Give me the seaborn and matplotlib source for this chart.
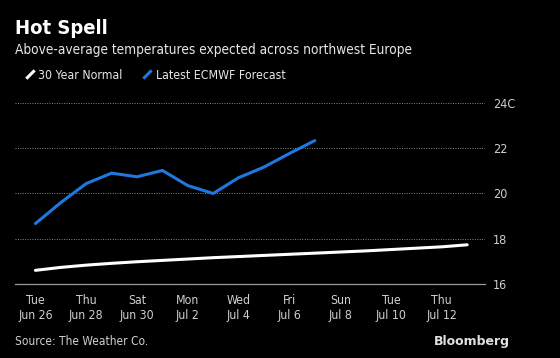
import numpy as np
import pandas as pd
import matplotlib
matplotlib.use("Agg")
import matplotlib.pyplot as plt
from matplotlib.lines import Line2D
import seaborn as sns

# data (deg C)
normal = [16.6, 16.73, 16.83, 16.91, 16.98, 17.04, 17.1, 17.16, 17.21,
          17.26, 17.31, 17.36, 17.41, 17.46, 17.52, 17.58, 17.64, 17.73]
forecast = [18.67, 19.6, 20.44, 20.9, 20.74, 21.02, 20.35, 20.0, 20.7,
            21.17, 21.77, 22.34]
tick_days = ["Tue", "Thu", "Sat", "Mon", "Wed", "Fri", "Sun", "Tue", "Thu"]
tick_dates = ["Jun 26", "Jun 28", "Jun 30", "Jul 2", "Jul 4", "Jul 6",
              "Jul 8", "Jul 10", "Jul 12"]
y_ticks = [16, 18, 20, 22, 24]
y_labels = ["16", "18", "20", "22", "24C"]

dates = pd.date_range("2018-06-26", periods=len(normal), freq="D")
df = pd.concat([
    pd.DataFrame({"date": dates, "temp": normal, "series": "30 Year Normal"}),
    pd.DataFrame({"date": dates[:len(forecast)], "temp": forecast,
                  "series": "Latest ECMWF Forecast"}),
])

sns.set_style("dark", {"axes.facecolor": "black", "figure.facecolor": "black"})
plt.rcParams['font.family'] = ['DejaVu Sans']
plt.rcParams['font.stretch'] = 'condensed'

fig = plt.figure(figsize=(5.6, 3.58), dpi=100)
fig.patch.set_facecolor("black")
ax = fig.add_axes([0.027, 0.207, 0.839, 0.505])
ax.set_facecolor("black")

sns.lineplot(data=df, x="date", y="temp", hue="series",
             palette={"30 Year Normal": "white", "Latest ECMWF Forecast": "#1f78e0"},
             linewidth=2.2, ax=ax, legend=False)

ax.set_ylim(16, 24)
ax.set_xlim(dates[0] - pd.Timedelta(days=0.8), dates[0] + pd.Timedelta(days=17.7))
ax.yaxis.tick_right()
ax.set_yticks(y_ticks)
ax.set_yticklabels(y_labels)
tick_pos = dates[::2][:len(tick_dates)]
ax.set_xticks(tick_pos)
ax.set_xticklabels([f"{d}\n{t}" for d, t in zip(tick_days, tick_dates)])
ax.tick_params(axis="y", length=0, pad=6, labelcolor="#cfcfcf", labelsize=9)
ax.tick_params(axis="x", length=4, color="#9a9a9a", width=0.8, pad=3,
               labelcolor="#cfcfcf", labelsize=8.8)
ax.set_xlabel("")
ax.set_ylabel("")
for s in ["top", "left", "right"]:
    ax.spines[s].set_visible(False)
ax.spines["bottom"].set_color("#9a9a9a")
ax.spines["bottom"].set_linewidth(0.9)
ax.grid(False)
for y in y_ticks[1:]:
    ax.axhline(y, color="#8a8a8a", linestyle=(0, (1, 1.5)), linewidth=0.7, zorder=0)

fig.text(0.027, 0.905, "Hot Spell", color="white", fontsize=14.5, fontweight="bold")
fig.text(0.027, 0.848, "Above-average temperatures expected across northwest Europe",
         color="#e6e6e6", fontsize=9.8)

slash = [(-1, -1), (1, 1)]
handles = [Line2D([], [], color="white", marker=slash, markersize=6,
                  markeredgewidth=2.2, linestyle="None"),
           Line2D([], [], color="#1f78e0", marker=slash, markersize=6,
                  markeredgewidth=2.2, linestyle="None")]
fig.legend(handles, ["30 Year Normal", "Latest ECMWF Forecast"],
           loc="center left", bbox_to_anchor=(0.025, 0.79), ncol=2, frameon=False,
           fontsize=8.8, labelcolor="#e6e6e6", handlelength=0.8,
           handletextpad=0.3, columnspacing=1.6)

fig.text(0.027, 0.035, "Source: The Weather Co.", color="#cfcfcf", fontsize=8.6)
fig.text(0.91, 0.035, "Bloomberg", color="#e0e0e0", fontsize=9, fontweight="bold",
         ha="right", stretch="normal")

fig.savefig("out.png", dpi=100, facecolor="black")
